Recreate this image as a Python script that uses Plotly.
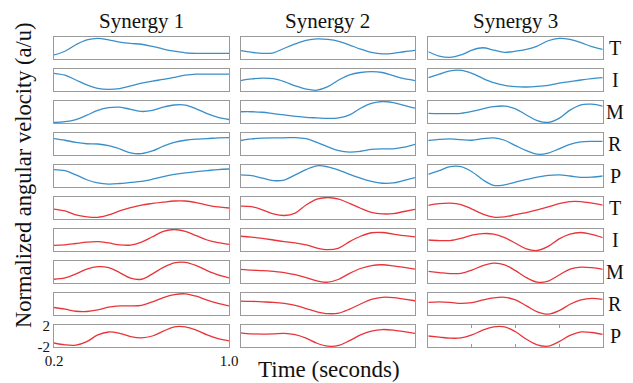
import plotly.graph_objects as go

# ---------------- data ----------------
time = [0.2, 0.25, 0.3, 0.35, 0.4, 0.45, 0.5, 0.55, 0.6, 0.65, 0.7, 0.75, 0.8, 0.85, 0.9, 0.95, 1.0]
fingers = ["T", "I", "M", "R", "P"]
titles = ["Synergy 1", "Synergy 2", "Synergy 3"]
x_ticks = [0.2, 1.0]
x_tick_text = ["0.2", "1.0"]
y_ticks = [-2, 2]
y_tick_text = ["-2", "2"]
minor_ticks = [0.4, 0.6, 0.8]

# Synergy 1 - blue
s1_blue_T = [-1.3, -0.6, 0.6, 1.5, 1.8, 1.5, 1.1, 0.85, 0.7, 0.3, -0.2, -0.6, -0.9, -1.0, -1.0, -1.0, -1.0]
s1_blue_I = [1.25, 0.9, 0.0, -0.9, -1.55, -1.75, -1.6, -1.1, -0.6, -0.2, 0.1, 0.5, 0.9, 1.1, 1.1, 1.1, 1.1]
s1_blue_M = [-1.95, -1.8, -1.4, -0.6, 0.3, 0.8, 0.9, 0.5, 0.1, 0.3, 0.9, 1.3, 1.3, 0.6, -0.3, -1.0, -1.4]
s1_blue_R = [1.0, 0.7, 0.3, 0.05, 0.0, -0.3, -0.9, -1.65, -1.8, -1.3, -0.4, 0.3, 0.7, 0.9, 1.0, 1.15, 1.2]
s1_blue_P = [1.2, 1.0, 0.2, -0.7, -1.3, -1.5, -1.4, -1.2, -1.0, -0.6, -0.1, 0.3, 0.6, 0.8, 1.0, 1.2, 1.3]
# Synergy 1 - red
s1_red_T = [-0.2, -0.55, -1.3, -1.65, -1.75, -1.3, -0.55, 0.05, 0.55, 0.85, 1.1, 1.3, 1.3, 1.0, 0.55, 0.2, 0.0]
s1_red_I = [-1.0, -0.9, -0.65, -0.4, -0.3, -0.55, -0.9, -0.95, -0.4, 0.6, 1.6, 1.95, 1.6, 0.8, 0.0, -0.5, -0.8]
s1_red_M = [-1.35, -1.1, -0.35, 0.55, 1.0, 0.8, -0.1, -1.15, -1.35, -0.35, 0.85, 1.7, 1.8, 1.2, 0.25, -0.55, -1.1]
s1_red_R = [-0.65, -0.95, -1.35, -1.4, -1.1, -0.6, -0.35, -0.35, -0.25, 0.4, 1.2, 1.75, 1.9, 1.45, 0.7, 0.1, -0.35]
s1_red_P = [-1.3, -1.65, -1.7, -1.05, 0.2, 0.75, 0.5, -0.1, -0.35, 0.0, 0.9, 1.7, 1.7, 1.1, 0.2, -0.5, -0.9]

# Synergy 2 - blue
s2_blue_T = [-0.5, -0.8, -1.0, -0.9, -0.05, 0.75, 1.4, 1.7, 1.6, 1.25, 0.55, -0.2, -0.8, -1.1, -1.0, -0.7, -0.45]
s2_blue_I = [-0.1, 0.2, 0.35, 0.25, -0.3, -1.1, -1.7, -1.9, -1.25, 0.0, 0.95, 1.4, 1.55, 1.4, 0.8, 0.25, -0.1]
s2_blue_M = [0.05, 0.05, -0.05, -0.3, -0.55, -0.8, -1.0, -1.1, -1.2, -1.1, -0.55, 0.7, 1.6, 1.95, 1.75, 1.25, 0.7]
s2_blue_R = [0.65, 0.95, 1.1, 1.15, 1.15, 1.2, 1.0, 0.3, -0.55, -1.25, -1.5, -1.35, -1.0, -0.9, -0.9, -0.6, -0.05]
s2_blue_P = [0.2, 0.05, -0.4, -0.85, -0.75, 0.2, 1.2, 1.9, 1.7, 1.1, 0.3, -0.4, -1.0, -1.35, -1.3, -0.8, -0.3]
# Synergy 2 - red
s2_red_T = [0.35, 0.25, -0.35, -1.1, -1.4, -0.95, 0.55, 1.65, 1.95, 1.65, 0.85, -0.05, -0.8, -1.1, -1.05, -0.65, -0.25]
s2_red_I = [0.7, 0.55, 0.3, 0.0, -0.3, -0.55, -0.9, -1.5, -1.8, -1.5, -0.3, 0.7, 1.35, 1.4, 1.1, 0.8, 0.6]
s2_red_M = [0.5, 0.35, 0.25, 0.1, -0.1, -0.5, -1.05, -1.65, -1.9, -1.35, -0.25, 0.65, 1.2, 1.35, 1.15, 0.85, 0.55]
s2_red_R = [0.55, 0.5, 0.4, 0.3, 0.1, -0.25, -0.85, -1.45, -1.8, -1.7, -0.95, 0.0, 0.85, 1.25, 1.2, 0.9, 0.6]
s2_red_P = [0.6, 0.4, 0.35, 0.4, 0.5, 0.25, -0.4, -1.35, -1.9, -1.75, -0.85, 0.2, 0.9, 1.2, 1.1, 0.8, 0.5]

# Synergy 3 - blue
s3_blue_T = [-0.7, -1.5, -1.75, -1.3, -0.4, 0.05, -0.4, -0.8, -0.6, -0.25, 0.35, 1.35, 1.8, 1.6, 1.0, 0.25, -0.25]
s3_blue_I = [0.45, 1.1, 1.7, 1.8, 1.25, 0.3, -0.5, -1.0, -1.25, -1.3, -1.2, -1.0, -0.6, -0.3, 0.0, 0.25, 0.45]
s3_blue_M = [-0.25, -0.3, -0.3, -0.25, 0.1, 0.6, 1.0, 1.1, 0.6, -0.55, -1.6, -1.95, -1.2, 0.35, 1.35, 1.45, 1.1]
s3_blue_R = [0.65, 0.85, 0.95, 0.8, 0.7, 1.0, 1.15, 0.7, -0.3, -1.25, -1.9, -1.7, -0.9, -0.05, 0.4, 0.5, 0.5]
s3_blue_P = [0.3, 1.0, 1.75, 1.75, 0.8, -0.7, -1.75, -1.65, -1.15, -0.65, -0.2, 0.1, 0.2, 0.0, -0.25, -0.2, 0.0]
# Synergy 3 - red
s3_red_T = [0.5, 0.8, 0.9, 0.65, -0.2, -1.15, -1.7, -1.65, -1.25, -0.85, -0.35, 0.2, 0.8, 1.2, 1.2, 0.9, 0.55]
s3_red_I = [0.0, -0.1, -0.1, 0.3, 0.9, 1.2, 1.1, 0.45, -0.6, -1.65, -1.95, -1.2, 0.2, 1.1, 1.4, 1.05, 0.45]
s3_red_M = [0.1, -0.1, -0.3, -0.25, 0.35, 1.2, 1.65, 1.35, 0.25, -1.05, -1.9, -1.7, -0.55, 0.55, 0.9, 0.8, 0.5]
s3_red_R = [0.3, 0.4, 0.3, 0.1, 0.25, 0.75, 1.15, 1.25, 0.75, -0.35, -1.45, -1.9, -1.25, -0.05, 0.75, 1.05, 0.85]
s3_red_P = [0.0, -0.2, -0.4, -0.35, 0.2, 1.1, 1.7, 1.7, 0.8, -0.6, -1.65, -1.9, -1.05, 0.1, 0.75, 0.65, 0.3]

columns = [
    [s1_blue_T, s1_blue_I, s1_blue_M, s1_blue_R, s1_blue_P, s1_red_T, s1_red_I, s1_red_M, s1_red_R, s1_red_P],
    [s2_blue_T, s2_blue_I, s2_blue_M, s2_blue_R, s2_blue_P, s2_red_T, s2_red_I, s2_red_M, s2_red_R, s2_red_P],
    [s3_blue_T, s3_blue_I, s3_blue_M, s3_blue_R, s3_blue_P, s3_red_T, s3_red_I, s3_red_M, s3_red_R, s3_red_P],
]

# ---------------- layout ----------------
# The page body adds an 8px margin, so the figure is 625x375 and every
# screen position is shifted by -8 px.
OFF = 8
W, H = 633 - OFF, 383 - OFF
BLUE = "#3a8fc9"
RED = "#e8353a"
BOX = "#9a9a9a"
FONT = "Liberation Serif, Times New Roman, serif"


def px(x):
    return (x - OFF) / W


def py(y):
    return 1 - (y - OFF) / H


col_px = [(54, 229), (240.7, 415), (428.3, 602.7)]
row_top0, row_pitch, row_h = 37, 32, 22

fig = go.Figure()
layout = {}
for c in range(3):
    for r in range(10):
        idx = c * 10 + r + 1
        sfx = "" if idx == 1 else str(idx)
        color = BLUE if r < 5 else RED
        fig.add_trace(go.Scatter(
            x=time, y=columns[c][r], mode="lines",
            line=dict(color=color, width=1.3, shape="spline", smoothing=1.0),
            xaxis="x" + sfx, yaxis="y" + sfx, showlegend=False, hoverinfo="skip"))
        x0, x1 = col_px[c]
        top = row_top0 + r * row_pitch
        bot = top + row_h
        xa = dict(domain=[px(x0), px(x1)], range=[0.2, 1.0], anchor="y" + sfx,
                  showline=True, mirror=True, linecolor=BOX, linewidth=1,
                  showgrid=False, zeroline=False, ticks="", showticklabels=False,
                  fixedrange=True, automargin=False)
        ya = dict(domain=[py(bot), py(top)], range=[-2.05, 2.05], anchor="x" + sfx,
                  showline=True, mirror=True, linecolor=BOX, linewidth=1,
                  showgrid=False, zeroline=False, ticks="", showticklabels=False,
                  fixedrange=True, automargin=False)
        if c == 0 and r == 9:
            xa.update(showticklabels=True, tickvals=x_ticks, ticktext=x_tick_text,
                      tickfont=dict(family=FONT, size=15, color="#111"))
            ya.update(showticklabels=True, tickvals=y_ticks, ticktext=y_tick_text,
                      tickfont=dict(family=FONT, size=15, color="#111"))
        if c == 2 and r == 9:
            xa.update(ticks="inside", ticklen=3, tickcolor=BOX, tickwidth=1,
                      tickvals=minor_ticks, mirror="ticks")
        layout["xaxis" + sfx] = xa
        layout["yaxis" + sfx] = ya

annotations = []
for c in range(3):
    x0, x1 = col_px[c]
    annotations.append(dict(text=titles[c], x=px((x0 + x1) / 2), y=py(21),
                            xref="paper", yref="paper", showarrow=False,
                            xanchor="center", yanchor="middle",
                            font=dict(family=FONT, size=21, color="#111")))
for r in range(10):
    top = row_top0 + r * row_pitch
    annotations.append(dict(text=fingers[r % 5], x=px(615), y=py(top + row_h / 2),
                            xref="paper", yref="paper", showarrow=False,
                            xanchor="center", yanchor="middle",
                            font=dict(family=FONT, size=20, color="#111")))
annotations.append(dict(text="Normalized angular velocity (a/u)", x=px(23), y=py(175),
                        xref="paper", yref="paper", showarrow=False, textangle=-90,
                        xanchor="center", yanchor="middle",
                        font=dict(family=FONT, size=22.5, color="#111")))
annotations.append(dict(text="Time (seconds)", x=px(329), y=0,
                        xref="paper", yref="paper", showarrow=False,
                        xanchor="center", yanchor="bottom", borderpad=0,
                        font=dict(family=FONT, size=23, color="#111")))

fig.update_layout(width=W, height=H, margin=dict(l=0, r=0, t=0, b=0, pad=0),
                  autosize=False, showlegend=False,
                  paper_bgcolor="white", plot_bgcolor="white",
                  annotations=annotations, **layout)

fig.write_html("out.html", config={"displayModeBar": False})
